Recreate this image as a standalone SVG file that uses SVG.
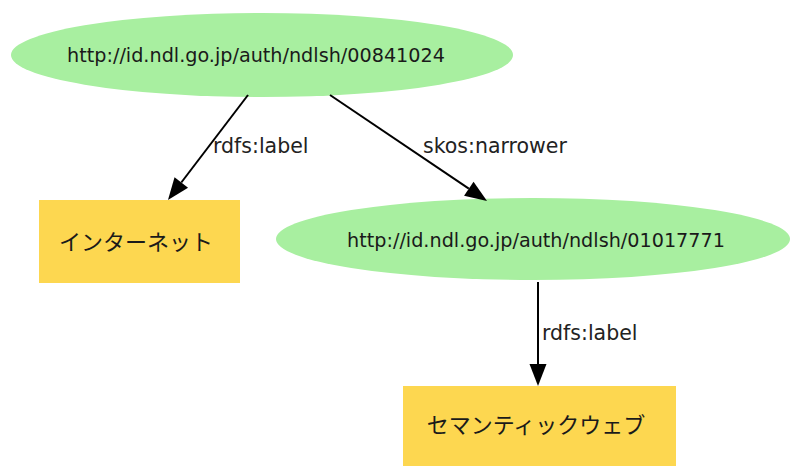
<svg xmlns="http://www.w3.org/2000/svg" width="797" height="466" viewBox="0 0 797 466">
<style>
.uri{fill:#a8efa0;stroke:none}
.lit{fill:#fdd750;stroke:none}
.t{font-family:"DejaVu Sans","Liberation Sans",sans-serif;font-size:19.2px;fill:#1a1a1a}
.j{font-family:"Noto Sans CJK JP","DejaVu Sans",sans-serif;font-size:22px;fill:#1a1a1a}
.e{stroke:#000;stroke-width:2;fill:none}
.l{font-family:"DejaVu Sans","Liberation Sans",sans-serif;font-size:20.5px;fill:#222}
</style>
<defs>
<marker id="ah" markerUnits="userSpaceOnUse" markerWidth="24" markerHeight="18" refX="0" refY="8.5" orient="auto" overflow="visible">
<path d="M0,0 L22,8.5 L0,17 z" fill="#000"/>
</marker>
</defs>
<rect width="797" height="466" fill="#fff"/>
<g id="n1">
<ellipse class="uri" cx="262" cy="55" rx="251" ry="42"/>
<text class="t" x="256" y="62" text-anchor="middle">http://id.ndl.go.jp/auth/ndlsh/00841024</text>
</g>
<g id="n2">
<rect class="lit" x="39" y="200" width="201" height="83"/>
<text class="j" x="136" y="250" text-anchor="middle">インターネット</text>
</g>
<g id="n3">
<ellipse class="uri" cx="533" cy="239" rx="257" ry="41"/>
<text class="t" x="536" y="247" text-anchor="middle">http://id.ndl.go.jp/auth/ndlsh/01017771</text>
</g>
<g id="n4">
<rect class="lit" x="403" y="386" width="273" height="80"/>
<text class="j" x="536" y="433" text-anchor="middle">セマンティックウェブ</text>
</g>
<g id="edges">
<path class="e" d="M248,95 L181.3,182.5" marker-end="url(#ah)"/>
<text class="l" x="213" y="153">rdfs:label</text>
<path class="e" d="M330,95 L468.8,188.7" marker-end="url(#ah)"/>
<text class="l" x="423" y="153">skos:narrower</text>
<path class="e" d="M538,282 L538,364" marker-end="url(#ah)"/>
<text class="l" x="542" y="340">rdfs:label</text>
</g>
</svg>
